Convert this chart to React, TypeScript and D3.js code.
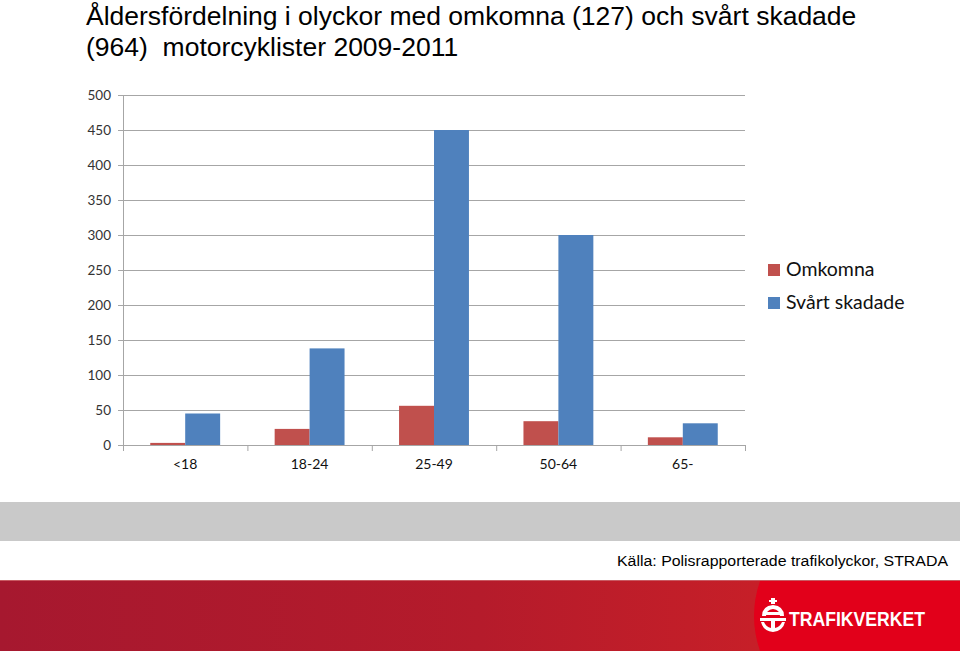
import React from "react";
import * as d3 from "d3";

const categories = ["<18", "18-24", "25-49", "50-64", "65-"];
const seriesNames = ["Omkomna", "Svårt skadade"];
const omkomna = [3, 23, 56, 34, 11];
const svartSkadade = [45, 138, 450, 300, 31];
const yTicks = [0, 50, 100, 150, 200, 250, 300, 350, 400, 450, 500];
const titleLines = [
  "Åldersfördelning i olyckor med omkomna (127) och svårt skadade",
  "(964)  motorcyklister 2009-2011",
];
const sourceText = "Källa: Polisrapporterade trafikolyckor, STRADA";
const colors = ["#c0504d", "#4f81bd"];

const W = 960;
const H = 651;
const plot = { left: 123, right: 745, top: 95, bottom: 445 };

export default function App() {
  const x0 = d3.scaleBand<string>().domain(categories).range([plot.left, plot.right]).padding(0);
  const x1 = d3
    .scaleBand<string>()
    .domain(seriesNames)
    .range([0, x0.bandwidth()])
    .paddingInner(0)
    .paddingOuter(0.78);
  const y = d3.scaleLinear().domain([0, 500]).range([plot.bottom, plot.top]);
  const data = [omkomna, svartSkadade];
  const font = "Lato, 'Open Sans', sans-serif";

  return (
    <div style={{ position: "absolute", left: 0, top: 0, width: W, height: H }}>
      <svg width={W} height={H} style={{ display: "block" }}>
        <defs>
          <linearGradient id="footerGrad" x1="0" x2="1" y1="0" y2="0">
            <stop offset="0" stopColor="#a6182f" />
            <stop offset="0.5" stopColor="#b51b2b" />
            <stop offset="1" stopColor="#d32226" />
          </linearGradient>
        </defs>
        <rect x={0} y={0} width={W} height={H} fill="#ffffff" />
        {/* title */}
        {titleLines.map((t, i) => (
          <text
            key={i}
            x={86}
            y={25 + i * 31}
            fontFamily="'Liberation Sans', Arial, sans-serif"
            fontSize={26.5}
            fill="#000"
            style={{ whiteSpace: "pre" }}
          >
            {t}
          </text>
        ))}
        {/* gridlines */}
        {yTicks.map((t) => (
          <g key={t}>
            {t > 0 && (
              <line x1={plot.left} x2={plot.right} y1={y(t) + 0.5} y2={y(t) + 0.5} stroke="#a6a6a6" strokeWidth={1} />
            )}
            <line x1={plot.left - 5} x2={plot.left} y1={y(t) + 0.5} y2={y(t) + 0.5} stroke="#a6a6a6" strokeWidth={1} />
            <text
              x={111}
              y={y(t)}
              dy="0.36em"
              textAnchor="end"
              fontFamily={font}
              fontSize={13.5}
              fill="#333"
            >
              {t}
            </text>
          </g>
        ))}
        {/* bars */}
        {categories.map((c, ci) =>
          seriesNames.map((s, si) => {
            const v = data[si][ci];
            return (
              <rect
                key={c + s}
                x={(x0(c) ?? 0) + (x1(s) ?? 0)}
                y={y(v)}
                width={x1.bandwidth()}
                height={y(0) - y(v)}
                fill={colors[si]}
              />
            );
          })
        )}
        {/* axes */}
        <line x1={plot.left + 0.5} x2={plot.left + 0.5} y1={plot.top} y2={plot.bottom} stroke="#a6a6a6" />
        <line x1={plot.left} x2={plot.right} y1={plot.bottom + 0.5} y2={plot.bottom + 0.5} stroke="#a6a6a6" />
        {[...categories.map((c) => x0(c) ?? 0), plot.right].map((xx, i) => (
          <line key={i} x1={xx + 0.5} x2={xx + 0.5} y1={plot.bottom} y2={plot.bottom + 6} stroke="#a6a6a6" />
        ))}
        {categories.map((c) => (
          <text
            key={c}
            x={(x0(c) ?? 0) + x0.bandwidth() / 2}
            y={469}
            textAnchor="middle"
            fontFamily={font}
            fontSize={14}
            fill="#111"
          >
            {c}
          </text>
        ))}
        {/* legend */}
        {seriesNames.map((s, i) => (
          <g key={s}>
            <rect x={768} y={264 + i * 33} width={12} height={12} fill={colors[i]} />
            <text x={786} y={276 + i * 33} fontFamily={font} fontSize={19.5} fill="#111">
              {s}
            </text>
          </g>
        ))}
        {/* grey band */}
        <rect x={0} y={502} width={W} height={39} fill="#c9c9c9" />
        <text
          x={948}
          y={566}
          textAnchor="end"
          fontFamily="'Liberation Sans Narrow', 'Liberation Sans', Arial, sans-serif"
          fontSize={15.5}
          textLength={331}
          lengthAdjust="spacingAndGlyphs"
          fill="#000"
        >
          {sourceText}
        </text>
        {/* footer */}
        <rect x={0} y={580} width={W} height={71} fill="url(#footerGrad)" />
        <line x1={0} x2={W} y1={580.5} y2={580.5} stroke="#c85a62" strokeWidth={1} />
        <path d="M760,581 L960,581 L960,651 L760,651 Q748,616 760,581 Z" fill="#e2001a" />
        {/* logo */}
        <g fill="#ffffff">
          <path d="M762,616 Q762,606 773,605 Q784,606 784,616 L780,616 Q780,610 773,609 Q766,610 766,616 Z" />
          <rect x={765} y={612} width={16} height={3} />
          <rect x={771} y={598} width={4} height={6} />
          <rect x={769} y={600} width={8} height={2} />
          <path d="M760,618 L786,618 L786,621 L775,621 L775,628 Q780,627 782,622 L785,622 Q783,631 773,632 Q763,631 761,622 L764,622 Q766,627 771,628 L771,621 L760,621 Z" />
          <text
            x={789}
            y={626}
            fontFamily="'Liberation Sans', Arial, sans-serif"
            fontWeight="bold"
            fontSize={20}
            textLength={136}
            lengthAdjust="spacingAndGlyphs"
          >
            TRAFIKVERKET
          </text>
        </g>
      </svg>
    </div>
  );
}
